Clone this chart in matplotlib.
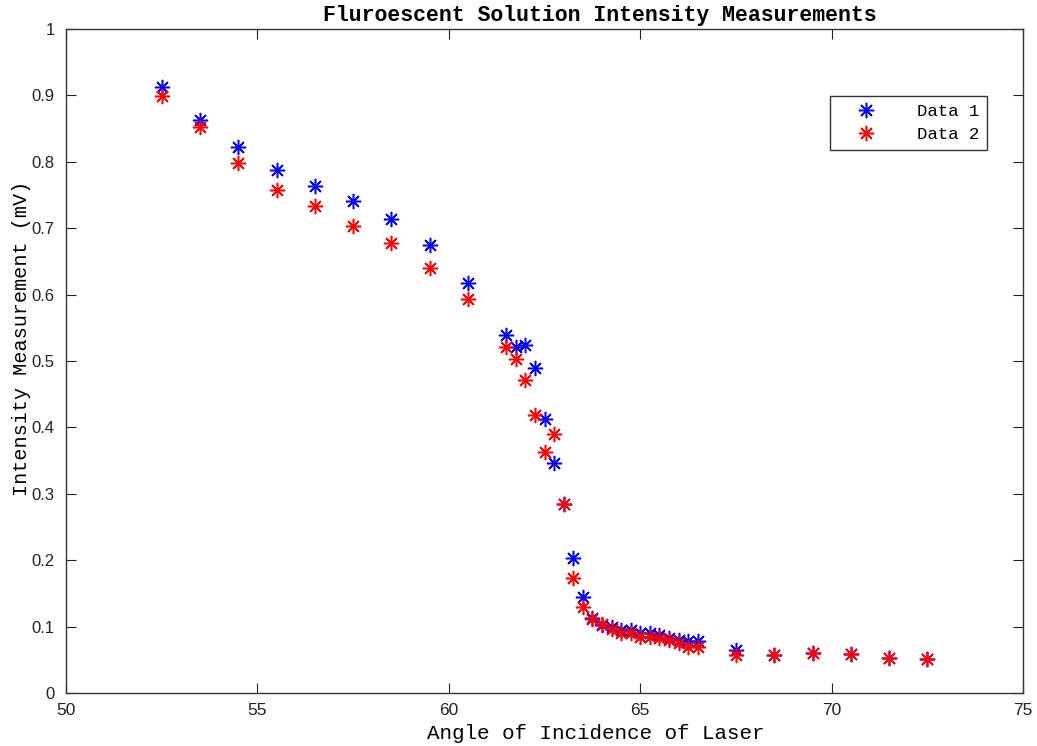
import matplotlib
matplotlib.use("Agg")
import matplotlib.pyplot as plt

# Angle of incidence (degrees)
angles = [52.5, 53.5, 54.5, 55.5, 56.5, 57.5, 58.5, 59.5, 60.5,
          61.5, 61.75, 62.0, 62.25, 62.5, 62.75, 63.0, 63.25, 63.5, 63.75,
          64.0, 64.25, 64.5, 64.75, 65.0, 65.25, 65.5, 65.75, 66.0, 66.25, 66.5,
          67.5, 68.5, 69.5, 70.5, 71.5, 72.5]

# Intensity readings (mV)
data1 = [0.913, 0.863, 0.822, 0.788, 0.764, 0.741, 0.714, 0.675, 0.617,
         0.539, 0.521, 0.524, 0.489, 0.412, 0.347, 0.285, 0.203, 0.145, 0.113,
         0.103, 0.100, 0.095, 0.095, 0.090, 0.090, 0.087, 0.083, 0.080, 0.078, 0.078,
         0.065, 0.058, 0.060, 0.059, 0.053, 0.052]
data2 = [0.899, 0.852, 0.798, 0.758, 0.733, 0.703, 0.678, 0.640, 0.593,
         0.521, 0.503, 0.472, 0.419, 0.363, 0.390, 0.285, 0.173, 0.130, 0.112,
         0.104, 0.097, 0.090, 0.090, 0.085, 0.085, 0.083, 0.080, 0.075, 0.070, 0.070,
         0.057, 0.058, 0.060, 0.059, 0.053, 0.051]

series_labels = ["Data 1", "Data 2"]
x_ticks = [50, 55, 60, 65, 70, 75]
y_ticks = [0, 0.1, 0.2, 0.3, 0.4, 0.5, 0.6, 0.7, 0.8, 0.9, 1]
y_tick_labels = ["0", "0.1", "0.2", "0.3", "0.4", "0.5", "0.6", "0.7", "0.8", "0.9", "1"]

mono = "Liberation Mono"
sans = "Liberation Sans"

fig = plt.figure(figsize=(10.37, 7.46), dpi=100)
ax = fig.add_axes([0.0636, 0.071, 0.923, 0.890])

star = (8, 2, 0)
ax.plot(angles, data1, linestyle="none", marker=star, color="#0000ff",
        markersize=11, markeredgewidth=1.1, label=series_labels[0])
ax.plot(angles, data2, linestyle="none", marker=star, color="#ff0000",
        markersize=11, markeredgewidth=1.1, label=series_labels[1])

ax.set_xlim(50, 75)
ax.set_ylim(0, 1)
ax.set_xticks(x_ticks)
ax.set_xticklabels([str(t) for t in x_ticks], fontfamily=sans, fontsize=12.5)
ax.set_yticks(y_ticks)
ax.set_yticklabels(y_tick_labels, fontfamily=sans, fontsize=12)
ax.tick_params(direction="in", top=True, right=True, length=7, width=0.8,
               colors="#222222")
ax.tick_params(axis="x", pad=7)
ax.tick_params(axis="y", pad=8)
for s in ax.spines.values():
    s.set_linewidth(1.0)
    s.set_color("#333333")

ax.set_title("Fluroescent Solution Intensity Measurements", fontfamily=mono,
             fontweight="bold", fontsize=15.5, pad=6, x=0.558)
ax.set_xlabel("Angle of Incidence of Laser", fontfamily=mono, fontsize=15, labelpad=0)
ax.xaxis.set_label_coords(0.553, -0.047)
ax.set_ylabel("Intensity Measurement (mV)", fontfamily=mono, fontsize=14.5)
ax.yaxis.set_label_coords(-0.037, 0.534)

leg = ax.legend(loc="upper left", bbox_to_anchor=(0.798, 0.899), frameon=True,
                fancybox=False, edgecolor="#333333", framealpha=1,
                prop={"family": mono, "size": 12.5}, handlelength=3.3,
                handletextpad=1.3, borderpad=0.45, labelspacing=0.45,
                borderaxespad=0)
leg.get_frame().set_linewidth(1.0)

fig.savefig("out.png", dpi=100)
